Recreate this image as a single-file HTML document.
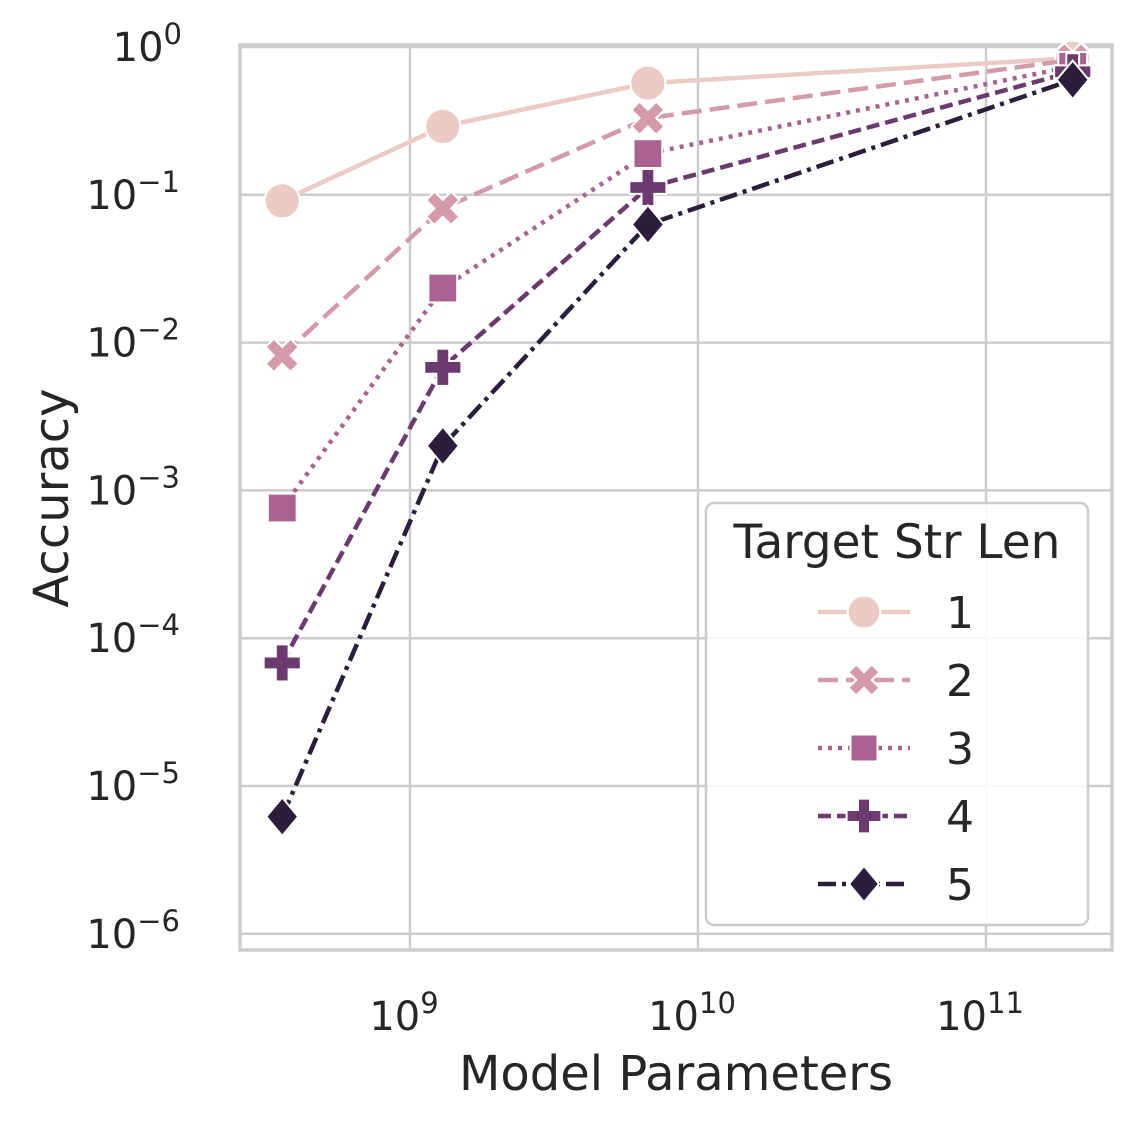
<!DOCTYPE html>
<html><head><meta charset="utf-8"><style>
body{margin:0;background:#fff;}
svg text{font-family:"DejaVu Sans","Liberation Sans",sans-serif;fill:#262626;}
</style></head><body>
<svg id="chart" width="1142" height="1130" xmlns="http://www.w3.org/2000/svg">
<g id="grid"></g>
<g id="axes"></g>
<g id="series"></g>
<g id="legend"></g>
<text x="676" y="1090" text-anchor="middle" font-size="48">Model Parameters</text>
<text transform="translate(68,498) rotate(-90)" text-anchor="middle" font-size="48">Accuracy</text>
</svg>
<script>
const params = [3.6e8, 1.3e9, 6.7e9, 2e11];
const seriesNames = ["1","2","3","4","5"];
const s1 = [0.091, 0.29, 0.57, 0.84];
const s2 = [0.0082, 0.081, 0.33, 0.82];
const s3 = [0.00076, 0.0234, 0.19, 0.74];
const s4 = [6.8e-5, 0.0068, 0.112, 0.68];
const s5 = [6.2e-6, 0.002, 0.063, 0.6];
const xTickExp = [9, 10, 11];
const yTickExp = [0, -1, -2, -3, -4, -5, -6];

const NS="http://www.w3.org/2000/svg";
const L=240,R=1112,T=45,B=950;
const xS=v=>410+(Math.log10(v)-9)*288;
const yS=v=>47-Math.log10(v)*147.8;
function mk(tag,attrs,parent){const e=document.createElementNS(NS,tag);for(const k in attrs)e.setAttribute(k,attrs[k]);parent.appendChild(e);return e;}
const grid=document.getElementById('grid'),axes=document.getElementById('axes'),ser=document.getElementById('series'),leg=document.getElementById('legend');
xTickExp.forEach(e=>{const x=xS(Math.pow(10,e));
 const g=mk('line',{x1:x,x2:x,y1:T,y2:B,stroke:'#cccccc','stroke-width':2.5},grid);
 
 
 const t=mk('text',{x:x-6,y:1030,'text-anchor':'middle','font-size':40},axes);
 
 
 t.innerHTML='10<tspan dy="-17" font-size="29">'+e+'</tspan>';
});
yTickExp.forEach(e=>{const y=yS(Math.pow(10,e));
 const g=mk('line',{x1:L,x2:R,y1:y,y2:y,stroke:'#cccccc','stroke-width':2.5},grid);
 
 
 const t=mk('text',{x:e<0?180:182,y:y+14,'text-anchor':'end','font-size':40},axes);
 
 
 t.innerHTML='10<tspan dy="-17" font-size="29">'+(e<0?'\u2212'+(-e):e)+'</tspan>';
});
const fr=mk('rect',{x:L,y:T,width:R-L,height:B-T,fill:'none',stroke:'#cccccc','stroke-width':3.5},axes);



const data=[s1,s2,s3,s4,s5];
const colors=['#ebcbc3','#d49aa7','#aa6390','#6c3a6e','#2c1d3d'];
const dashes=['none','20,8','4,6','13,6','18,6,4,6'];
const markers=['circle','x','square','plus','diamond'];
function marker(type,x,y,s,c,parent){
 let e;
 if(type==='circle')e=mk('circle',{cx:x,cy:y,r:s*0.55,fill:c,stroke:'#fff','stroke-width':2},parent);
 else if(type==='square')e=mk('rect',{x:x-s*0.45,y:y-s*0.45,width:s*0.9,height:s*0.9,fill:c,stroke:'#fff','stroke-width':2},parent);
 else if(type==='diamond')e=mk('polygon',{points:`${x},${y-s*0.6} ${x+s*0.5},${y} ${x},${y+s*0.6} ${x-s*0.5},${y}`,fill:c,stroke:'#fff','stroke-width':2},parent);
 else if(type==='plus'){const a=s*0.58,b=s*0.2;e=mk('polygon',{points:`${x-b},${y-a} ${x+b},${y-a} ${x+b},${y-b} ${x+a},${y-b} ${x+a},${y+b} ${x+b},${y+b} ${x+b},${y+a} ${x-b},${y+a} ${x-b},${y+b} ${x-a},${y+b} ${x-a},${y-b} ${x-b},${y-b}`,fill:c,stroke:'#fff','stroke-width':2},parent);}
 else {const a=s*0.52,b=s*0.26;e=mk('polygon',{points:`${x-a},${y-a+b} ${x-a+b},${y-a} ${x},${y-b} ${x+a-b},${y-a} ${x+a},${y-a+b} ${x+b},${y} ${x+a},${y+a-b} ${x+a-b},${y+a} ${x},${y+b} ${x-a+b},${y+a} ${x-a},${y+a-b} ${x-b},${y}`,fill:c,stroke:'#fff','stroke-width':2},parent);}
 return e;
}
data.forEach((vals,i)=>{
 const g=mk('g',{},ser);
 
 
 const pts=vals.map((v,j)=>xS(params[j])+','+yS(v)).join(' ');
 const pl=mk('polyline',{points:pts,fill:'none',stroke:colors[i],'stroke-width':4.5,'stroke-dasharray':dashes[i]},g);
 
 
 vals.forEach((v,j)=>{const m=marker(markers[i],xS(params[j]),yS(v),32,colors[i],g);
  
  });
});
const lb=mk('rect',{x:706,y:503,width:382,height:422,rx:8,fill:'#fff','fill-opacity':0.85,stroke:'#cccccc','stroke-width':2.5},leg);


const lt=mk('text',{x:897,y:558,'text-anchor':'middle','font-size':47},leg);


lt.textContent='Target Str Len';
seriesNames.forEach((n,i)=>{const y=612+i*68;
 const g=mk('g',{},leg);
 
 
 mk('line',{x1:818,x2:910,y1:y,y2:y,stroke:colors[i],'stroke-width':4.5,'stroke-dasharray':dashes[i]},g);
 marker(markers[i],864,y,30,colors[i],g);
 const t=mk('text',{x:946,y:y+16,'font-size':44},g);
 t.textContent=n;
});
</script>
</body></html>
